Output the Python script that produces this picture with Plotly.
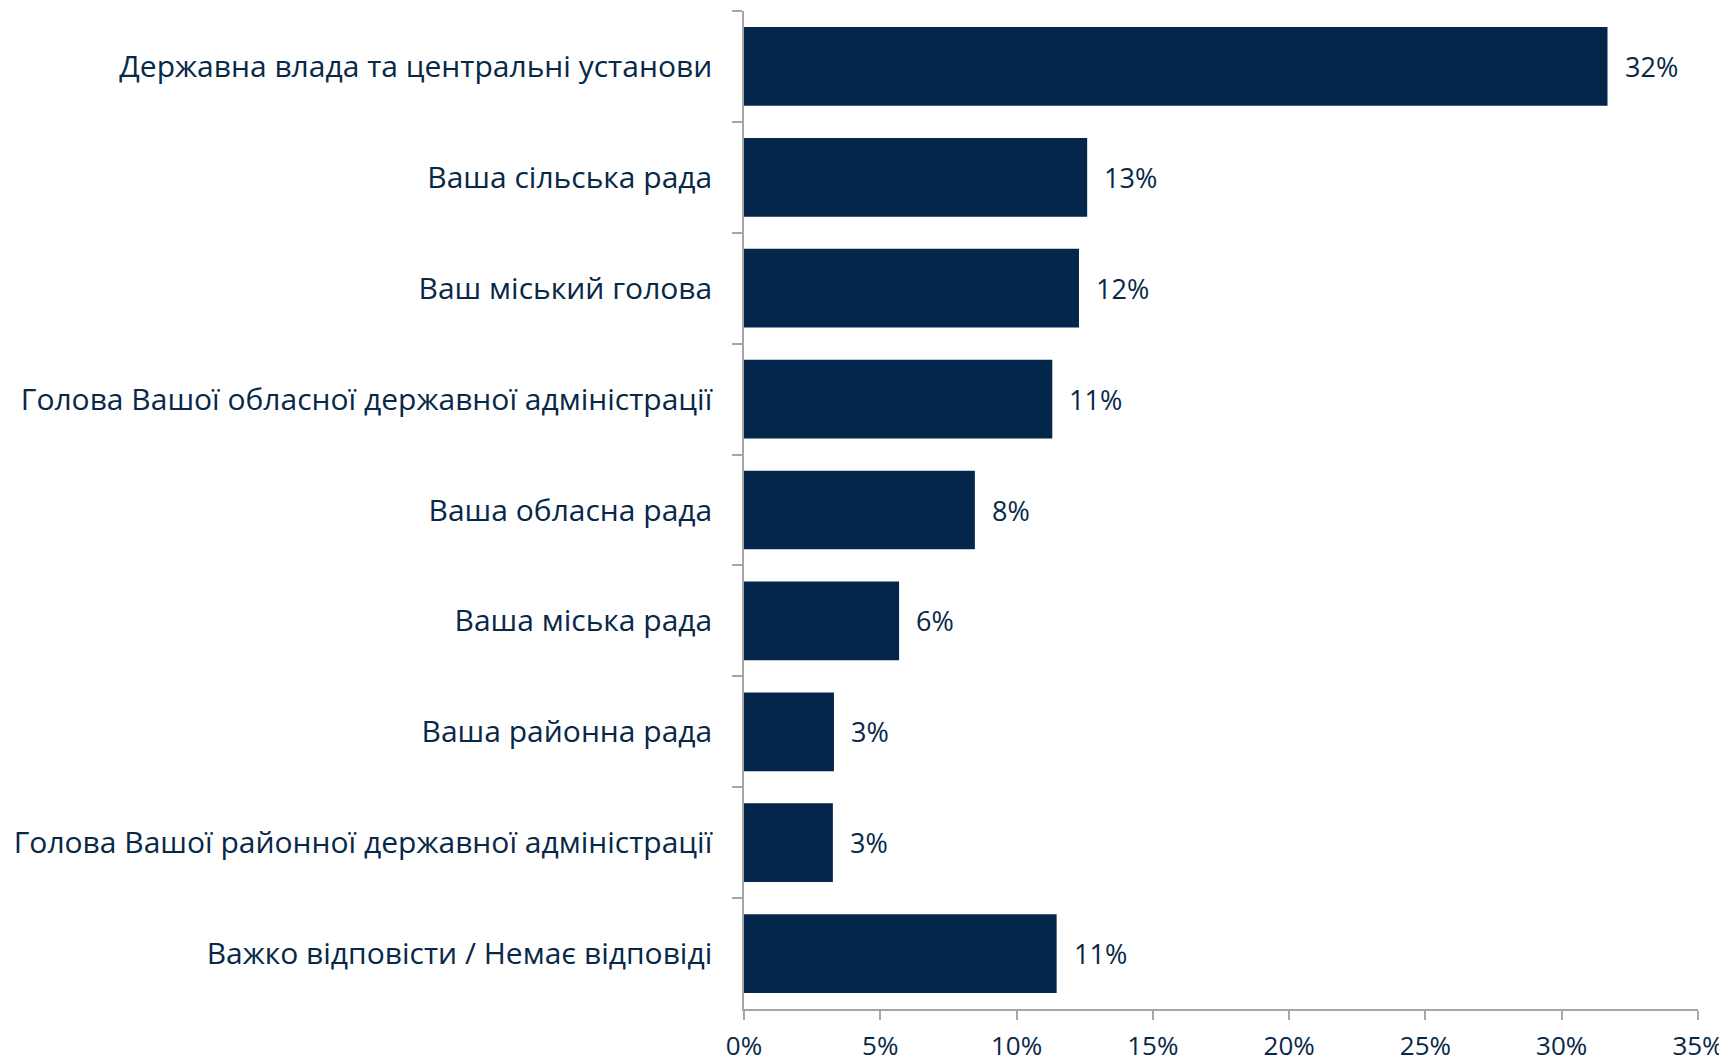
import plotly.graph_objects as go

categories = [
    "Державна влада та центральні установи",
    "Ваша сільська рада",
    "Ваш міський голова",
    "Голова Вашої обласної державної адміністрації",
    "Ваша обласна рада",
    "Ваша міська рада",
    "Ваша районна рада",
    "Голова Вашої районної державної адміністрації",
    "Важко відповісти / Немає відповіді",
]
values = [0.3168, 0.1259, 0.1229, 0.1131, 0.0847, 0.0569, 0.0330, 0.0326, 0.1147]
x_ticks = [0, 0.05, 0.10, 0.15, 0.20, 0.25, 0.30, 0.35]
x_tick_labels = ["0%", "5%", "10%", "15%", "20%", "25%", "30%", "35%"]

BAR = "#03264A"
TEXT = "#082848"
GRID = "#A6A6A6"
FONT = "Open Sans"

fig = go.Figure()
fig.add_trace(go.Bar(
    x=values, y=categories, orientation="h",
    marker=dict(color=BAR, line=dict(width=0)),
    hoverinfo="skip",
))

for c, v in zip(categories, values):
    fig.add_annotation(
        x=v, y=c, xref="x", yref="y",
        text=f"{round(v * 100):.0f}%",
        showarrow=False, xanchor="left", yanchor="middle",
        xshift=15, font=dict(family=FONT, size=27, color=TEXT),
    )

# page body adds an 8px offset; size and margins compensate for it
fig.update_layout(
    width=1719, height=1056,
    margin=dict(l=736, r=29, t=3, b=55),
    paper_bgcolor="white", plot_bgcolor="white",
    bargap=0.29,
    showlegend=False,
    font=dict(family=FONT, size=27, color=TEXT),
)
fig.update_xaxes(
    range=[0, 0.35], tickvals=x_ticks, ticktext=x_tick_labels,
    showgrid=False, zeroline=False, automargin=False,
    showline=True, linecolor=GRID, linewidth=1.5,
    ticks="outside", ticklen=9, tickcolor=GRID, tickwidth=1.5,
    ticklabelstandoff=4,
    tickfont=dict(family=FONT, size=26, color=TEXT),
)
fig.update_yaxes(
    categoryorder="array", categoryarray=categories, autorange="reversed",
    showgrid=False, zeroline=False, automargin=False,
    showline=True, linecolor=GRID, linewidth=1.5,
    ticks="outside", ticklen=10, tickcolor=GRID, tickwidth=1.5,
    tickson="boundaries", ticklabelstandoff=24,
    tickfont=dict(family=FONT, size=30, color=TEXT),
)

fig.write_html("out.html")
